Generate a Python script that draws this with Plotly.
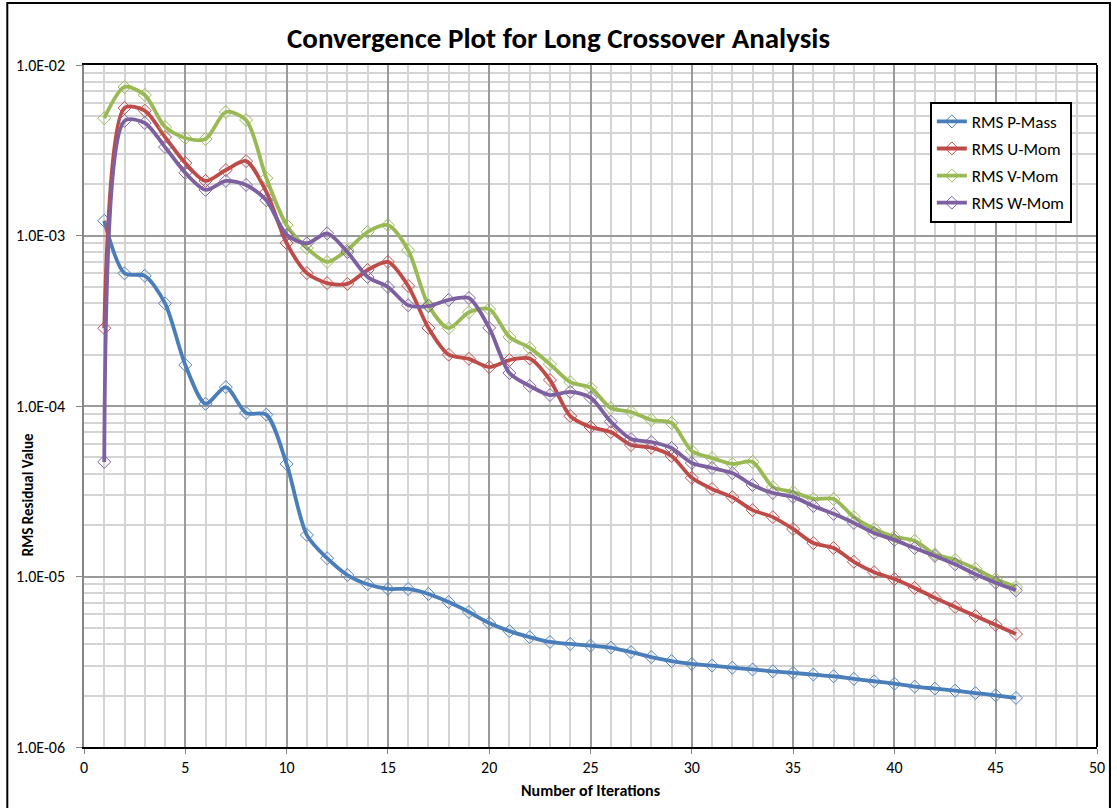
import plotly.graph_objects as go

iterations = list(range(1, 47))

p_mass = [1.22e-3, 6.0e-4, 5.8e-4, 4.0e-4, 1.74e-4, 1.03e-4, 1.29e-4, 9.1e-5, 8.9e-5, 4.57e-5,
          1.75e-5, 1.28e-5, 1.02e-5, 9.0e-6, 8.45e-6, 8.45e-6, 7.9e-6, 7.08e-6, 6.19e-6, 5.33e-6,
          4.78e-6, 4.41e-6, 4.13e-6, 4.02e-6, 3.93e-6, 3.83e-6, 3.6e-6, 3.37e-6, 3.19e-6, 3.07e-6,
          3.0e-6, 2.92e-6, 2.85e-6, 2.78e-6, 2.72e-6, 2.66e-6, 2.6e-6, 2.51e-6, 2.43e-6, 2.35e-6,
          2.26e-6, 2.2e-6, 2.14e-6, 2.07e-6, 2.01e-6, 1.94e-6]

u_mom = [2.86e-4, 5.6e-3, 5.4e-3, 3.78e-3, 2.66e-3, 2.09e-3, 2.42e-3, 2.73e-3, 1.8e-3, 9.03e-4,
         6.02e-4, 5.26e-4, 5.2e-4, 6.28e-4, 7.0e-4, 5.06e-4, 2.87e-4, 2.0e-4, 1.89e-4, 1.69e-4,
         1.86e-4, 1.9e-4, 1.42e-4, 8.73e-5, 7.53e-5, 7.03e-5, 5.9e-5, 5.7e-5, 5.09e-5, 3.79e-5,
         3.26e-5, 2.92e-5, 2.45e-5, 2.23e-5, 1.9e-5, 1.57e-5, 1.47e-5, 1.22e-5, 1.06e-5, 9.66e-6,
         8.57e-6, 7.49e-6, 6.62e-6, 5.86e-6, 5.2e-6, 4.6e-6]

v_mom = [4.88e-3, 7.43e-3, 6.67e-3, 4.33e-3, 3.73e-3, 3.68e-3, 5.3e-3, 4.76e-3, 2.17e-3, 1.15e-3,
         8.45e-4, 7.0e-4, 8.22e-4, 1.05e-3, 1.15e-3, 8.2e-4, 3.9e-4, 2.86e-4, 3.55e-4, 3.7e-4,
         2.54e-4, 2.19e-4, 1.76e-4, 1.38e-4, 1.28e-4, 9.73e-5, 9.22e-5, 8.28e-5, 7.95e-5, 5.45e-5,
         4.95e-5, 4.57e-5, 4.7e-5, 3.35e-5, 3.13e-5, 2.85e-5, 2.85e-5, 2.23e-5, 1.9e-5, 1.71e-5,
         1.62e-5, 1.35e-5, 1.25e-5, 1.11e-5, 9.66e-6, 8.68e-6]

w_mom = [4.7e-5, 4.7e-3, 4.57e-3, 3.3e-3, 2.33e-3, 1.85e-3, 2.09e-3, 1.98e-3, 1.61e-3, 1.01e-3,
         9.0e-4, 1.03e-3, 8.0e-4, 5.71e-4, 4.99e-4, 3.9e-4, 3.85e-4, 4.19e-4, 4.3e-4, 2.87e-4,
         1.56e-4, 1.31e-4, 1.16e-4, 1.21e-4, 1.12e-4, 8.1e-5, 6.4e-5, 6.15e-5, 5.67e-5, 4.63e-5,
         4.33e-5, 4.04e-5, 3.44e-5, 3.09e-5, 2.93e-5, 2.59e-5, 2.33e-5, 2.06e-5, 1.8e-5, 1.64e-5,
         1.47e-5, 1.32e-5, 1.18e-5, 1.03e-5, 9.2e-6, 8.3e-6]

series_names = ["RMS P-Mass", "RMS U-Mom", "RMS V-Mom", "RMS W-Mom"]
series_values = [p_mass, u_mom, v_mom, w_mom]
line_colors = ["#4A7EBB", "#BE4B48", "#98B954", "#7D60A0"]
marker_colors = ["#4F81BD", "#C0504D", "#9BBB59", "#8064A2"]

y_tick_vals = [1e-6, 1e-5, 1e-4, 1e-3, 1e-2]
y_tick_text = ["1.0E-06", "1.0E-05", "1.0E-04", "1.0E-03", "1.0E-02"]
x_tick_vals = list(range(0, 51, 5))

FONT = "Carlito, Calibri, Lato, sans-serif"

fig = go.Figure()
for name, vals, lc, mc in zip(series_names, series_values, line_colors, marker_colors):
    fig.add_trace(go.Scatter(
        x=iterations, y=vals, name=name, legendgroup=name, mode="lines+markers",
        line=dict(color=lc, width=3.8, shape="spline", smoothing=0.8),
        marker=dict(symbol="diamond-open", size=10, color=mc, line=dict(width=1, color=mc)),
    ))

fig.update_layout(
    width=1117, height=808,
    margin=dict(l=84, r=16, t=65, b=61),
    paper_bgcolor="white", plot_bgcolor="white",
    font=dict(family=FONT, size=16, color="black"),
    title=dict(text="<b>Convergence Plot for Long Crossover Analysis</b>",
               x=0.5, xanchor="center", y=0.953, yanchor="middle",
               font=dict(family=FONT, size=29, color="black")),
    showlegend=True,
    legend=dict(x=0.835, y=0.946, xanchor="left", yanchor="top",
                bgcolor="white", bordercolor="black", borderwidth=2,
                font=dict(family=FONT, size=17), tracegroupgap=2, itemwidth=30),
    xaxis=dict(range=[0, 50], tickvals=x_tick_vals, ticks="outside", ticklen=5,
               tickcolor="#868686", tickfont=dict(size=16), ticklabelstandoff=0,
               showgrid=True, gridcolor="#9a9a9a", gridwidth=1.5,
               minor=dict(dtick=1, showgrid=True, gridcolor="#d4d4d4", gridwidth=1.5),
               showline=True, linecolor="black", linewidth=2, mirror=True,
               zeroline=False),
    yaxis=dict(type="log", range=[-6, -2], tickvals=y_tick_vals, ticktext=y_tick_text,
               ticks="outside", ticklen=6, tickcolor="#868686", tickfont=dict(size=16),
               ticklabelstandoff=8,
               showgrid=True, gridcolor="#9a9a9a", gridwidth=1.5,
               minor=dict(dtick="D1", showgrid=True, gridcolor="#d4d4d4", gridwidth=1.5),
               showline=True, linecolor="#868686", linewidth=1.5,
               zeroline=False),
    annotations=[
        dict(text="<b>Number of Iterations</b>", xref="paper", yref="paper",
             x=0.5, y=(747 - 790) / 682, xanchor="center", yanchor="middle",
             showarrow=False, font=dict(family=FONT, size=16, color="black")),
        dict(text="<b>RMS Residual Value</b>", xref="paper", yref="paper",
             x=(28 - 84) / 1017, y=(747 - 495) / 682, xanchor="center", yanchor="middle",
             textangle=-90, showarrow=False, font=dict(family=FONT, size=15, color="black")),
    ],
)

# right edge of plot area
fig.add_shape(type="line", xref="paper", yref="paper", x0=1, x1=1, y0=0, y1=1,
              line=dict(color="black", width=2))
# outer chart border
fig.add_shape(type="rect", xref="paper", yref="paper",
              x0=(7 - 84) / 1017, x1=(1114 - 84) / 1017,
              y0=(747 - 830) / 682, y1=(747 - 3) / 682,
              line=dict(color="black", width=2), fillcolor="rgba(0,0,0,0)")

fig.write_html("out.html")
